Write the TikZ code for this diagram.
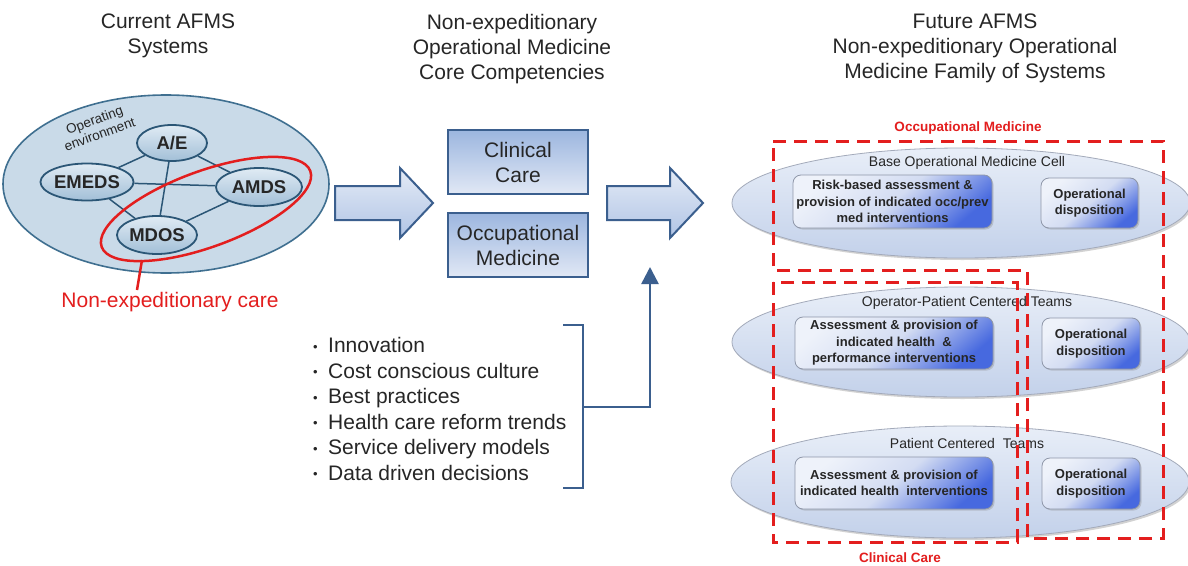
\documentclass[tikz,border=0pt]{standalone}
\usepackage{fontspec}
\setmainfont{Liberation Sans}
\usetikzlibrary{shapes.geometric,shadows,arrows.meta}
\definecolor{hdrc}{HTML}{262626}
\definecolor{envfill}{HTML}{C9DAE8}
\definecolor{envdraw}{HTML}{3F6F90}
\definecolor{sysTop}{HTML}{E0EBF4}
\definecolor{sysBot}{HTML}{A2BFD7}
\definecolor{sysdraw}{HTML}{2B5676}
\definecolor{redc}{HTML}{E31E1E}
\definecolor{navy}{HTML}{3B5F8E}
\definecolor{arrTop}{HTML}{E4EBF6}
\definecolor{arrBot}{HTML}{B0C4E5}
\definecolor{boxTop}{HTML}{9CB6DF}
\definecolor{boxBot}{HTML}{E1E8F5}
\definecolor{ellTop}{HTML}{E8EEF8}
\definecolor{ellBot}{HTML}{C3D1EA}
\definecolor{ellDraw}{HTML}{A3AABA}
\definecolor{inLight}{HTML}{EEF2FA}
\definecolor{inMid}{HTML}{D3DCF2}
\definecolor{inBlue}{HTML}{4769DF}
\definecolor{inDraw}{HTML}{8E96A8}
\newcommand{\myfs}[2]{\fontsize{#1}{#2}\selectfont}
\newcommand{\bul}{\makebox[15pt][l]{\raisebox{1.5pt}{\myfs{13}{13}•}}}
\begin{document}
\begin{tikzpicture}[x=1pt,y=-1pt,
  hdr/.style={font=\myfs{21}{25}, text=hdrc, align=center, inner sep=0pt, anchor=north},
  env/.style={ellipse, draw=envdraw, line width=1.6pt, fill=envfill, inner sep=0pt},
  sys/.style={ellipse, draw=sysdraw, line width=1.8pt, top color=sysTop, bottom color=sysBot, inner sep=0pt, font=\bfseries\myfs{18.5}{22}, text=black!85},
  link/.style={draw=sysdraw, line width=1.5pt},
  blockarrow/.style={draw=navy, line width=2pt, line join=miter, top color=arrTop, bottom color=arrBot},
  compbox/.style={draw=navy, line width=2pt, top color=boxTop, bottom color=boxBot, minimum width=140pt, minimum height=64pt, align=center, font=\myfs{21}{25}, text=hdrc, inner sep=0pt},
  navyline/.style={draw=navy, line width=2.5pt},
  famell/.style={ellipse, draw=ellDraw, line width=0.8pt, top color=ellTop, bottom color=ellBot, drop shadow={opacity=0.35, shadow xshift=1.5pt, shadow yshift=-2pt}, minimum width=458pt, minimum height=110pt, inner sep=0pt},
  famtitle/.style={font=\myfs{14}{16}, text=hdrc, inner sep=0pt},
  inbox/.style={rounded corners=8pt, draw=inDraw, line width=0.8pt, top color=inLight, bottom color=inBlue, middle color=inMid, shading angle=40, drop shadow={opacity=0.3, shadow xshift=1.5pt, shadow yshift=-1.5pt}, align=center, font=\bfseries\myfs{13}{16.5}, text=hdrc, inner sep=0pt},
  reddash/.style={draw=redc, line width=3pt, dash pattern=on 13pt off 8pt},
  redlbl/.style={font=\bfseries\myfs{13.5}{16}, text=redc, inner sep=0pt}
]
\useasboundingbox (0,0) rectangle (1188,565);
\fill[white] (0,0) rectangle (1188,565);

% headers
\node[hdr] (hA) at (168,14) {Current AFMS\\Systems};
\node[hdr] (hB) at (512,14) {Non-expeditionary\\Operational Medicine\\Core Competencies};
\node[hdr] (hC) at (975,14) {Future AFMS\\Non-expeditionary Operational\\Medicine Family of Systems};

% current systems
\node[env, minimum width=326pt, minimum height=178pt] (env) at (166,184) {};
\node[rotate=20, font=\myfs{13.5}{15}, align=center, inner sep=0pt, text=hdrc] (envlbl) at (97,127) {Operating\\environment};
\node[sys, minimum width=70pt, minimum height=36pt] (ae) at (172,143) {A/E};
\node[sys, minimum width=86pt, minimum height=37pt] (emeds) at (87,182) {EMEDS};
\node[sys, minimum width=86pt, minimum height=38pt] (amds) at (259,187) {AMDS};
\node[sys, minimum width=80pt, minimum height=38pt] (mdos) at (157,235) {MDOS};
\draw[link] (ae) -- (emeds);
\draw[link] (ae) -- (amds);
\draw[link] (ae) -- (mdos);
\draw[link] (emeds) -- (amds);
\draw[link] (emeds) -- (mdos);
\draw[link] (amds) -- (mdos);
\node[ellipse, draw=redc, line width=2.5pt, rotate=20, minimum width=222pt, minimum height=76pt, inner sep=0pt] (nec) at (206,209) {};
\coordinate (necA) at (142,260);
\coordinate (necB) at (137,290);
\draw[redc, line width=2.5pt] (necA) -- (necB);
\node[font=\myfs{21}{25}, text=redc, inner sep=0pt] (necl) at (170,302) {Non-expeditionary care};

% block arrows
\path[blockarrow] (335,186) -- (400,186) -- (400,168) -- (433,203) -- (400,238) -- (400,220) -- (335,220) -- cycle;
\path[blockarrow] (607,186) -- (670,186) -- (670,168) -- (703,203) -- (670,238) -- (670,220) -- (607,220) -- cycle;

% core competencies
\node[compbox] (cc) at (518,162) {Clinical\\Care};
\node[compbox] (om) at (518,245) {Occupational\\Medicine};

% drivers
\node[anchor=west, align=left, font=\myfs{21}{25.5}, text=hdrc, inner sep=0pt] (drivers) at (313,409) {\bul Innovation\\ \bul Cost conscious culture\\ \bul Best practices\\ \bul Health care reform trends\\ \bul Service delivery models\\ \bul Data driven decisions};
\coordinate (brT) at (563,325);
\coordinate (brTr) at (583,325);
\coordinate (brBr) at (583,488);
\coordinate (brB) at (563,488);
\coordinate (brM) at (583,407);
\coordinate (brJ) at (650,407);
\coordinate (upTip) at (650,267);
\draw[navyline] (brT) -- (brTr) -- (brBr) -- (brB);
\draw[navyline, -{Triangle[width=17pt,length=17pt]}] (brM) -- (brJ) -- (upTip);

% future family of systems
\node[famell] (e1) at (961,203) {};
\node[famell] (e2) at (961,342) {};
\node[famell, minimum height=112pt] (e3) at (960,482) {};
\node[famtitle] (t1) at (967,163) {Base Operational Medicine Cell};
\node[famtitle] (t2) at (967,303) {Operator-Patient Centered Teams};
\node[famtitle] (t3) at (967,443) {Patient Centered~ Teams};
\node[inbox, minimum width=199pt, minimum height=53pt] (b1) at (892.5,201.5) {Risk-based assessment \&\\provision of indicated occ/prev\\med interventions};
\node[inbox, minimum width=97pt, minimum height=50pt] (d1) at (1089.5,203) {Operational\\disposition};
\node[inbox, minimum width=198pt, minimum height=52pt] (b2) at (894,343) {Assessment \& provision of\\indicated health~ \&\\performance interventions};
\node[inbox, minimum width=98pt, minimum height=51pt] (d2) at (1091,343.5) {Operational\\disposition};
\node[inbox, minimum width=198pt, minimum height=52pt] (b3) at (894,483) {Assessment \& provision of\\indicated health~ interventions};
\node[inbox, minimum width=98pt, minimum height=51pt] (d3) at (1091,483.5) {Operational\\disposition};

% dashed groupings
\draw[reddash] (773,141) -- (1163,141) -- (1163,538) -- (1027,538) -- (1027,270) -- (773,270) -- cycle;
\draw[reddash] (773,282) rectangle (1017,542);
\node[redlbl] (omlbl) at (968,128) {Occupational Medicine};
\node[redlbl] (cclbl) at (900,558) {Clinical Care};
\end{tikzpicture}
\end{document}
